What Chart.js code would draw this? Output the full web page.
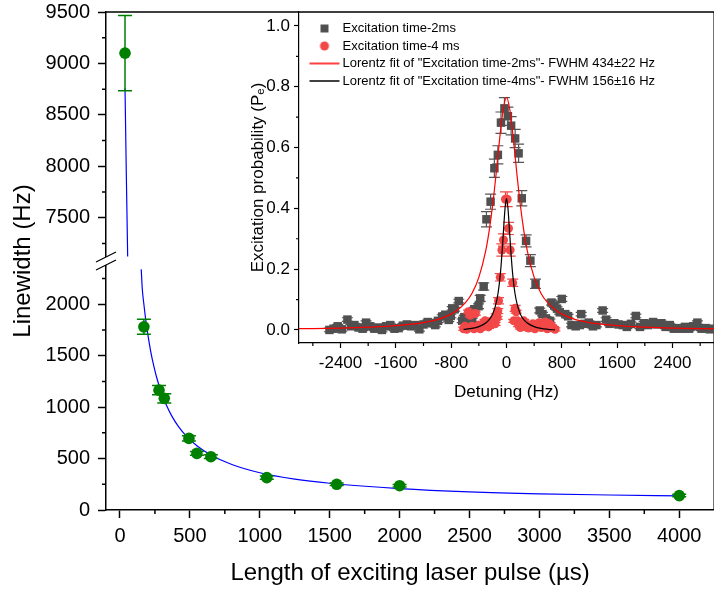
<!DOCTYPE html>
<html><head><meta charset="utf-8">
<script src="https://cdn.jsdelivr.net/npm/chart.js@4/dist/chart.umd.min.js"></script>
<style>
html,body{margin:0;padding:0;background:#fff;overflow:hidden;}
#wrap{position:relative;width:714px;height:596px;overflow:hidden;background:#fff;}
#main{position:absolute;left:0;top:0;}
#inset{position:absolute;left:228px;top:0;}
</style></head><body>
<div id="wrap"><canvas id="main" width="720" height="596"></canvas><canvas id="inset" width="492" height="410"></canvas></div>
<script>
// ---------- main chart data ----------
const PULSE_US      = [36, 171, 279, 317, 493, 550, 650, 1050, 1550, 2000, 4000];
const LINEWIDTH_HZ  = [9100, 1780, 1165, 1085, 696, 550, 518, 315, 250, 236, 140];
const LINEWIDTH_ERR = [365, 73, 44, 44, 25, 18, 18, 15, 12, 12, 12];
const FIT_UP_X  = [36, 45, 55];
const FIT_UP_Y  = [8760, 7950, 7124];
const FIT_LOW_X = [152, 160, 171, 185, 200, 220, 240, 260, 280, 300, 330, 370, 420, 480, 550, 650, 800, 1000, 1250, 1500, 2000, 2500, 3000, 3500, 4000];
const FIT_LOW_Y = [2340, 2140, 2000, 1840, 1700, 1540, 1410, 1300, 1208, 1127, 1025, 915, 808, 710, 625, 535, 442, 362, 300, 260, 208, 176, 157, 146, 137];
const X_TICKS     = [0, 500, 1000, 1500, 2000, 2500, 3000, 3500, 4000];
const X_MINOR     = [250, 750, 1250, 1750, 2250, 2750, 3250, 3750];
const Y_LOW_TICKS = [0, 500, 1000, 1500, 2000];
const Y_LOW_MINOR = [250, 750, 1250, 1750, 2250];
const Y_UP_TICKS  = [7500, 8000, 8500, 9000, 9500];
const Y_UP_MINOR  = [7250, 7750, 8250, 8750, 9250];

// ---------- inset data ----------
const GRAY_X = [-2560,-2500,-2440,-2380,-2300,-2250,-2200,-2140,-2080,-2030,-1970,-1910,-1860,-1800,-1740,-1680,-1620,-1560,-1500,-1440,-1380,-1320,-1260,-1200,-1140,-1090,-1030,-990,-930,-885,-835,-805,-785,-750,-690,-640,-610,-555,-520,-495,-465,-405,-380,-330,-290,-230,-175,-125,-80,-30,20,67,125,175,221,283,345,420,480,520,570,630,650,690,730,770,800,850,890,940,1000,1060,1080,1130,1190,1250,1300,1390,1440,1490,1560,1620,1680,1740,1800,1870,1930,1990,2050,2120,2180,2240,2300,2360,2420,2480,2540,2580,2640,2700,2760,2820,2880,2940,3000];
const GRAY_Y = [0.000,0.004,0.012,0.002,0.034,0.012,0.016,0.008,0.004,0.024,0.012,0.004,0.008,0.000,0.012,0.016,0.004,0.006,0.014,0.018,0.012,0.016,0.002,0.018,0.026,0.022,0.016,0.030,0.044,0.050,0.033,0.046,0.071,0.068,0.095,0.030,0.042,0.030,0.058,0.033,0.068,0.078,0.104,0.143,0.364,0.422,0.532,0.576,0.682,0.729,0.703,0.672,0.630,0.581,0.433,0.293,0.228,0.152,0.064,0.052,0.038,0.030,0.090,0.080,0.070,0.058,0.102,0.052,0.045,0.016,0.012,0.016,0.052,0.020,0.024,0.012,0.016,0.064,0.034,0.020,0.022,0.018,0.016,0.010,0.020,0.046,0.010,0.022,0.016,0.026,0.018,0.022,0.010,0.016,0.004,0.006,0.004,0.010,0.004,0.012,0.024,0.004,0.006,0.002,0.004];
const GRAY_ERR = [0.006,0.006,0.006,0.006,0.006,0.006,0.006,0.006,0.006,0.006,0.006,0.006,0.006,0.006,0.006,0.006,0.006,0.006,0.006,0.006,0.006,0.006,0.006,0.006,0.006,0.006,0.006,0.006,0.006,0.006,0.006,0.006,0.006,0.006,0.006,0.006,0.006,0.006,0.006,0.006,0.006,0.008,0.010,0.012,0.025,0.025,0.030,0.030,0.035,0.035,0.030,0.030,0.030,0.030,0.025,0.020,0.020,0.015,0.008,0.006,0.006,0.006,0.008,0.006,0.006,0.006,0.008,0.006,0.006,0.006,0.006,0.006,0.006,0.006,0.006,0.006,0.006,0.006,0.006,0.006,0.006,0.006,0.006,0.006,0.006,0.006,0.006,0.006,0.006,0.006,0.006,0.006,0.006,0.006,0.006,0.006,0.006,0.006,0.006,0.006,0.006,0.006,0.006,0.006,0.006];
const RED_X = [-620,-600,-575,-550,-525,-500,-470,-450,-420,-400,-380,-350,-330,-310,-285,-260,-240,-210,-190,-165,-150,-135,-125,-115,-90,-67,-43,-15,10,29,53,90,105,125,140,160,175,200,220,250,270,300,320,350,380,410,440,470,500,530,560,590,620,650,680,700];
const RED_Y = [0.004,0.012,0.002,0.060,0.048,0.012,0.004,0.054,0.008,0.016,0.004,0.010,0.022,0.030,0.027,0.010,0.016,0.022,0.034,0.020,0.048,0.040,0.062,0.096,0.173,0.263,0.296,0.430,0.430,0.334,0.263,0.155,0.030,0.071,0.060,0.030,0.016,0.008,0.022,0.030,0.010,0.018,0.006,0.012,0.020,0.004,0.016,0.024,0.008,0.010,0.026,0.004,0.020,0.012,0.006,0.002];
const RED_ERR = [0.005,0.005,0.005,0.005,0.005,0.005,0.005,0.005,0.005,0.005,0.005,0.005,0.005,0.005,0.005,0.005,0.005,0.005,0.005,0.005,0.005,0.005,0.008,0.010,0.012,0.020,0.020,0.024,0.024,0.020,0.020,0.012,0.005,0.010,0.005,0.005,0.005,0.005,0.005,0.005,0.005,0.005,0.005,0.005,0.005,0.005,0.005,0.005,0.005,0.005,0.005,0.005,0.005,0.005,0.005,0.005];
const FIT2_X = [-3000,-2400,-2000,-1600,-1200,-1000,-800,-700,-600,-500,-400,-300,-250,-200,-150,-100,-50,0,50,100,150,200,250,300,400,500,600,700,800,1000,1200,1600,2000,2400,3000];
const FIT2_Y = [0.004,0.006,0.009,0.014,0.024,0.034,0.052,0.067,0.088,0.120,0.173,0.261,0.327,0.411,0.514,0.627,0.722,0.765,0.722,0.627,0.514,0.411,0.327,0.261,0.173,0.120,0.088,0.067,0.052,0.034,0.024,0.014,0.009,0.006,0.004];
const FIT4_X = [-620,-500,-400,-300,-250,-200,-150,-120,-100,-80,-60,-40,-20,0,20,40,60,80,100,120,150,200,250,300,400,500,600,700];
const FIT4_Y = [0.002,0.005,0.011,0.023,0.034,0.052,0.088,0.124,0.160,0.207,0.268,0.339,0.403,0.432,0.403,0.339,0.268,0.207,0.160,0.124,0.088,0.052,0.034,0.023,0.011,0.005,0.002,0.000];
const DET_TICKS  = [-2400, -1600, -800, 0, 800, 1600, 2400];
const DET_MINOR  = [-2800, -2000, -1200, -400, 400, 1200, 2000, 2800];
const PROB_TICKS = [0, 0.2, 0.4, 0.6, 0.8, 1.0];
const PROB_MINOR = [0.1, 0.3, 0.5, 0.7, 0.9];
const LEGEND_TEXT = ['Excitation time-2ms', 'Excitation time-4 ms',
  'Lorentz fit of "Excitation time-2ms"- FWHM 434\u00B122 Hz',
  'Lorentz fit of "Excitation time-4ms"- FWHM 156\u00B116 Hz'];

// ---------- styling ----------
const FONT = "'Liberation Sans', Arial, Helvetica, sans-serif";
const GREEN = '#008000', BLUE = '#0000ff', GRAY = '#505050', RED = '#f24848';
Chart.defaults.font.family = FONT;
Chart.defaults.color = '#000';

const pts = (xs, ys) => xs.map((x, i) => ({x, y: ys[i]}));
const setTicks = arr => s => { s.ticks = arr.map(v => ({value: v})); };
const fitW = w => s => { s.width = w; s.paddingTop = 0; s.paddingBottom = 0; };
const fitH = h => s => { s.height = h; s.paddingLeft = 0; s.paddingRight = 0; };

const errBars = {
  id: 'errBars',
  beforeDatasetDraw(chart, args) {
    const ds = chart.data.datasets[args.index];
    if (!ds.errors) return;
    const meta = args.meta, ys = chart.scales[meta.yAxisID], ctx = chart.ctx;
    ctx.save();
    ctx.strokeStyle = ds.errColor; ctx.lineWidth = ds.errWidth || 1;
    ctx.beginPath();
    meta.data.forEach((el, i) => {
      const v = ds.data[i].y, e = ds.errors[i];
      if (!e) return;
      const x = el.x, y1 = ys.getPixelForValue(v + e), y2 = ys.getPixelForValue(v - e), c = ds.errCap;
      ctx.moveTo(x, y1); ctx.lineTo(x, y2);
      ctx.moveTo(x - c, y1); ctx.lineTo(x + c, y1);
      ctx.moveTo(x - c, y2); ctx.lineTo(x + c, y2);
    });
    ctx.stroke(); ctx.restore();
  }
};
function minorTicks(axes, len, width) {
  return { id: 'minorTicks', afterDraw(chart) {
    const ctx = chart.ctx; ctx.save(); ctx.strokeStyle = '#000'; ctx.lineWidth = width; ctx.beginPath();
    axes.forEach(a => { const s = chart.scales[a.id];
      a.values.forEach(v => { const p = s.getPixelForValue(v);
        if (s.isHorizontal()) { ctx.moveTo(p, s.top); ctx.lineTo(p, s.top + len); }
        else { ctx.moveTo(s.right, p); ctx.lineTo(s.right - len, p); } });
    });
    ctx.stroke(); ctx.restore(); } };
}
const frameBreak = {
  id: 'frameBreak',
  afterDraw(chart) {
    const {ctx, chartArea: ca, scales} = chart;
    ctx.save(); ctx.strokeStyle = '#000'; ctx.lineWidth = 1.5;
    ctx.beginPath(); ctx.moveTo(ca.left, ca.top); ctx.lineTo(ca.right, ca.top); ctx.lineTo(ca.right, ca.bottom); ctx.stroke();
    const b = scales.yLow.top, ax = ca.left;
    ctx.fillStyle = '#fff'; ctx.beginPath();
    ctx.moveTo(ax - 10, b + 1); ctx.lineTo(ax + 10, b - 9); ctx.lineTo(ax + 10, b - 1); ctx.lineTo(ax - 10, b + 9); ctx.closePath(); ctx.fill();
    ctx.lineWidth = 1.2; ctx.beginPath();
    ctx.moveTo(ax - 10, b + 1); ctx.lineTo(ax + 10, b - 9);
    ctx.moveTo(ax - 10, b + 9); ctx.lineTo(ax + 10, b - 1);
    ctx.stroke(); ctx.restore();
  }
};

// ---------- main chart ----------
const upI = [], lowI = [];
PULSE_US.forEach((x, i) => (LINEWIDTH_HZ[i] > Y_UP_TICKS[0] - 1000 ? upI : lowI).push(i));
const mainTicks = {font: {family: FONT, size: 20}, color: '#000', padding: 8, callback: v => String(v)};
const mainGrid = {drawOnChartArea: false, tickLength: 8, tickWidth: 1.5, tickColor: '#000', color: '#000'};
const mainBorder = {color: '#000', width: 1.5};
new Chart(document.getElementById('main'), {
  type: 'scatter',
  data: { datasets: [
    {label: 'low', yAxisID: 'yLow', data: lowI.map(i => ({x: PULSE_US[i], y: LINEWIDTH_HZ[i]})), errors: lowI.map(i => LINEWIDTH_ERR[i]),
     pointRadius: 5.8, backgroundColor: GREEN, borderWidth: 0, errColor: GREEN, errCap: 7, errWidth: 1.5, order: 1},
    {label: 'up', yAxisID: 'yUp', data: upI.map(i => ({x: PULSE_US[i], y: LINEWIDTH_HZ[i]})), errors: upI.map(i => LINEWIDTH_ERR[i]),
     pointRadius: 5.8, backgroundColor: GREEN, borderWidth: 0, errColor: GREEN, errCap: 7, errWidth: 1.5, order: 1},
    {label: 'fitLow', yAxisID: 'yLow', data: pts(FIT_LOW_X, FIT_LOW_Y), showLine: true, pointRadius: 0, borderColor: BLUE, borderWidth: 1.2, cubicInterpolationMode: 'monotone', order: 2},
    {label: 'fitUp', yAxisID: 'yUp', data: pts(FIT_UP_X, FIT_UP_Y), showLine: true, pointRadius: 0, borderColor: BLUE, borderWidth: 1.2, order: 2}
  ]},
  options: {
    responsive: false, animation: false, events: [],
    layout: {padding: {left: 0, top: 12, right: 5, bottom: 0}},
    plugins: {legend: {display: false}, tooltip: {enabled: false}},
    scales: {
      x: {type: 'linear', min: -100, max: 4250, afterBuildTicks: setTicks(X_TICKS), afterFit: fitH(86),
          ticks: {...mainTicks, padding: 6, maxRotation: 0, autoSkip: false}, grid: mainGrid, border: mainBorder,
          title: {display: true, text: 'Length of exciting laser pulse (\u00B5s)', color: '#000', font: {family: FONT, size: 24}, padding: {top: 0, bottom: 8}}},
      yLow: {type: 'linear', position: 'left', stack: 'lw', stackWeight: 1, min: 0, max: 2420,
          afterBuildTicks: setTicks(Y_LOW_TICKS), afterFit: fitW(66), ticks: mainTicks, grid: mainGrid, border: mainBorder},
      yUp: {type: 'linear', position: 'left', stack: 'lw', stackWeight: 1, min: 7080, max: 9500,
          afterBuildTicks: setTicks(Y_UP_TICKS), afterFit: fitW(66), ticks: mainTicks, grid: mainGrid, border: mainBorder},
      yTitle: {type: 'linear', position: 'left', weight: 5, afterFit: fitW(40),
          ticks: {display: false}, grid: {display: false}, border: {display: false},
          title: {display: true, text: 'Linewidth (Hz)', color: '#000', font: {family: FONT, size: 24}, padding: {top: 9, bottom: 0}}}
    }
  },
  plugins: [errBars, frameBreak, minorTicks([{id: 'x', values: X_MINOR}, {id: 'yLow', values: Y_LOW_MINOR}, {id: 'yUp', values: Y_UP_MINOR}], 4, 1.5)]
});

// ---------- inset chart ----------
function icon(draw) { const c = document.createElement('canvas'); c.width = 32; c.height = 12; draw(c.getContext('2d')); return c; }
const ICONS = [
  icon(g => { g.fillStyle = GRAY; g.fillRect(12, 2, 8, 8); }),
  icon(g => { g.fillStyle = RED; g.beginPath(); g.arc(16, 6, 4.5, 0, Math.PI * 2); g.fill(); }),
  icon(g => { g.strokeStyle = '#ff0000'; g.lineWidth = 1.5; g.beginPath(); g.moveTo(1, 6); g.lineTo(31, 6); g.stroke(); }),
  icon(g => { g.strokeStyle = '#000'; g.lineWidth = 1.5; g.beginPath(); g.moveTo(1, 6); g.lineTo(31, 6); g.stroke(); })
];
const legendPos = { id: 'legendPos', beforeDraw(chart) {
  const l = chart.legend, ca = chart.chartArea; if (!l) return;
  l.left = ca.left + 9.5; l.top = ca.top + 5.5; l.bottom = ca.bottom; l.right = ca.right; } };
const insTicks = {font: {family: FONT, size: 17}, color: '#000'};
const insGrid = {drawOnChartArea: false, tickLength: 5, tickWidth: 1.2, tickColor: '#000', color: '#000'};
const insBorder = {color: '#000', width: 1.2};
new Chart(document.getElementById('inset'), {
  type: 'scatter',
  data: { datasets: [
    {label: LEGEND_TEXT[0], data: pts(GRAY_X, GRAY_Y), errors: GRAY_ERR, pointStyle: 'rect', pointRadius: 6, backgroundColor: GRAY, borderWidth: 0,
     errColor: '#555', errCap: 5.5, errWidth: 1.2, order: 4},
    {label: LEGEND_TEXT[1], data: pts(RED_X, RED_Y), errors: RED_ERR, pointStyle: 'circle', pointRadius: 4.5, backgroundColor: RED, borderWidth: 0,
     errColor: RED, errCap: 5.5, errWidth: 1.2, order: 3},
    {label: LEGEND_TEXT[2], data: pts(FIT2_X, FIT2_Y), showLine: true, pointRadius: 0, borderColor: '#ff0000', borderWidth: 1.2, cubicInterpolationMode: 'monotone', order: 2},
    {label: LEGEND_TEXT[3], data: pts(FIT4_X, FIT4_Y), showLine: true, pointRadius: 0, borderColor: '#000', borderWidth: 1.2, cubicInterpolationMode: 'monotone', order: 1}
  ]},
  options: {
    responsive: false, animation: false, events: [],
    layout: {padding: {left: 0, top: 12, right: 4, bottom: 0}},
    plugins: {
      tooltip: {enabled: false},
      legend: {display: true, position: 'chartArea', align: 'start',
        labels: {usePointStyle: true, pointStyleWidth: 23, padding: 4.5, color: '#000', font: {family: FONT, size: 13},
          generateLabels: chart => chart.data.datasets.map((ds, i) => ({text: ds.label, pointStyle: ICONS[i], datasetIndex: i, hidden: false,
            lineWidth: 0, fillStyle: 'rgba(0,0,0,0)', strokeStyle: 'rgba(0,0,0,0)', fontColor: '#000'}))}}
    },
    scales: {
      x: {type: 'linear', min: -3000, max: 3000, afterBuildTicks: setTicks(DET_TICKS), afterFit: fitH(67),
          ticks: {...insTicks, padding: 5, maxRotation: 0, autoSkip: false, callback: v => String(v)}, grid: insGrid, border: insBorder,
          title: {display: true, text: 'Detuning (Hz)', color: '#000', font: {family: FONT, size: 17}, padding: {top: 0, bottom: 7}}},
      y: {type: 'linear', min: -0.043, max: 1.046, afterBuildTicks: setTicks(PROB_TICKS), afterFit: fitW(71),
          ticks: {...insTicks, padding: 4, callback: v => v.toFixed(1)}, grid: insGrid, border: insBorder,
          title: {display: true, text: 'Excitation probability (P\u2091)', color: '#000', font: {family: FONT, size: 17}, padding: {top: 20, bottom: 0}}}
    }
  },
  plugins: [errBars, legendPos, minorTicks([{id: 'x', values: DET_MINOR}, {id: 'y', values: PROB_MINOR}], 3, 1.2)]
});
</script>
</body></html>
